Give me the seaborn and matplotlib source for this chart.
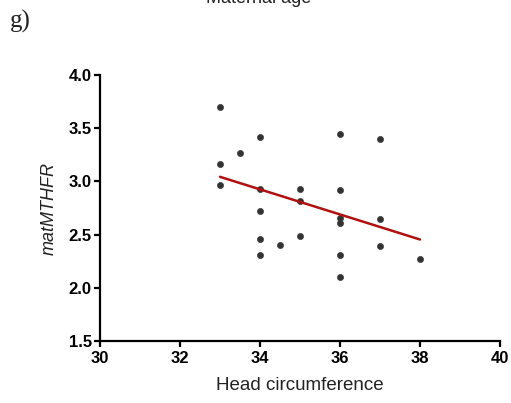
import matplotlib
matplotlib.use("Agg")
import matplotlib.pyplot as plt
import seaborn as sns
import pandas as pd

head_circ = [33, 33, 33, 33.5, 34, 34, 34, 34, 34, 34.5, 35, 35, 35,
             36, 36, 36, 36, 36, 36, 37, 37, 37, 38]
mat_mthfr = [3.70, 3.16, 2.97, 3.27, 3.42, 2.93, 2.72, 2.46, 2.31, 2.40, 2.93, 2.82, 2.49,
             3.45, 2.92, 2.66, 2.61, 2.31, 2.10, 3.40, 2.65, 2.39, 2.27]
x_ticks = [30, 32, 34, 36, 38, 40]
y_ticks = [1.5, 2.0, 2.5, 3.0, 3.5, 4.0]

df = pd.DataFrame({"x": head_circ, "y": mat_mthfr})

sns.set_theme(style="ticks")
plt.rcParams['font.family'] = ['Liberation Sans', 'DejaVu Sans']

fig = plt.figure(figsize=(5.11, 4.03), dpi=100)
ax = fig.add_axes([0.1957, 0.1538, 0.7828, 0.660])

sns.regplot(data=df, x="x", y="y", ci=None, ax=ax,
            scatter_kws=dict(marker="D", s=20, color="#333333", alpha=1, linewidths=0.4,
                             edgecolors="#333333"),
            line_kws=dict(color="#b01010", linewidth=1.8))

ax.set_xlim(30, 40)
ax.set_ylim(1.5, 4.0)
ax.set_xticks(x_ticks)
ax.set_yticks(y_ticks)
ax.set_xticklabels([str(t) for t in x_ticks], fontweight="bold", fontsize=12, color="#222222")
ax.set_yticklabels([f"{t:.1f}" for t in y_ticks], fontweight="bold", fontsize=12, color="#222222")
ax.tick_params(axis="both", length=4, width=1.6, pad=2, colors="black")
ax.tick_params(axis="x", pad=3)
for s in ["left", "bottom"]:
    ax.spines[s].set_linewidth(1.6)
    ax.spines[s].set_color("black")
for s in ["top", "right"]:
    ax.spines[s].set_visible(False)

ax.set_xlabel("Head circumference", fontsize=13.5, color="#222222", labelpad=8)
ax.set_ylabel("matMTHFR", fontsize=13, style="italic", color="#222222", labelpad=8)

fig.text(0.507, 1 - 3 / 403, "Maternal age", ha="center", va="baseline",
         fontsize=13, color="#222222")
fig.text(0.02, 1 - 28 / 403, "g)", ha="left", va="baseline",
         fontsize=18, family="Liberation Serif", color="#222222")

fig.savefig("out.png", dpi=100)
